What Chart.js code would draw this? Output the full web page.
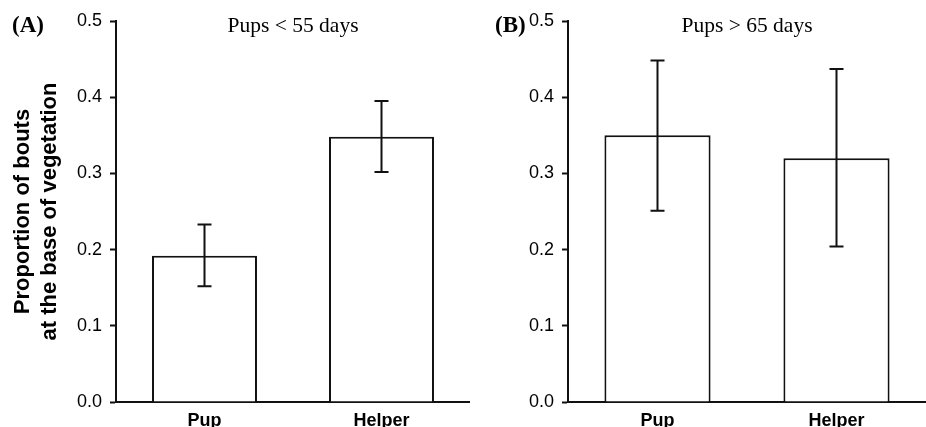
<!DOCTYPE html>
<html>
<head>
<meta charset="utf-8">
<script src="https://cdn.jsdelivr.net/npm/chart.js@4"></script>
<style>
  body { margin: 0; background: #fff; }
  #wrap { position: relative; width: 926px; height: 427px; }
  canvas { position: absolute; top: 0; }
</style>
</head>
<body>
<div id="wrap">
  <canvas id="chartA" width="470" height="427" style="left:0"></canvas>
  <canvas id="chartB" width="456" height="427" style="left:470px"></canvas>
</div>
<script>
// categories and values
const categories = ['Pup', 'Helper'];

const youngMeans = [0.192, 0.348];   // Pups < 55 days
const youngLower = [0.152, 0.302];
const youngUpper = [0.233, 0.395];

const olderMeans = [0.350, 0.320];   // Pups > 65 days
const olderLower = [0.251, 0.204];
const olderUpper = [0.448, 0.437];

const yMin = 0;
const yMax = 0.5;
const yStep = 0.1;

const sans = "'Liberation Sans', Arial, sans-serif";
const serif = "'Liberation Serif', 'Times New Roman', serif";

// draws error bars using the chart's scales
const errorBarPlugin = {
    id: 'errorBars',
    afterDatasetsDraw(chart, args, opts) {
        const ctx = chart.ctx;
        const x = chart.scales.x;
        const y = chart.scales.y;
        ctx.save();
        ctx.strokeStyle = '#111';
        ctx.lineWidth = 2;
        opts.lower.forEach((lo, i) => {
            const px = x.getPixelForValue(i);
            const yLo = y.getPixelForValue(lo);
            const yHi = y.getPixelForValue(opts.upper[i]);
            ctx.beginPath();
            ctx.moveTo(px, yLo);
            ctx.lineTo(px, yHi);
            ctx.moveTo(px - 7, yLo);
            ctx.lineTo(px + 7, yLo);
            ctx.moveTo(px - 7, yHi);
            ctx.lineTo(px + 7, yHi);
            ctx.stroke();
        });
        ctx.restore();
    }
};

// panel letter and panel title
const panelTextPlugin = {
    id: 'panelText',
    afterDraw(chart, args, opts) {
        const ctx = chart.ctx;
        const area = chart.chartArea;
        ctx.save();
        ctx.fillStyle = '#000';
        ctx.textBaseline = 'alphabetic';
        ctx.font = 'bold 23px ' + serif;
        ctx.textAlign = 'left';
        ctx.fillText(opts.label, opts.labelX, 32);
        ctx.font = '21.5px ' + serif;
        ctx.textAlign = 'center';
        ctx.fillText(opts.title, (area.left + area.right) / 2, 32);
        ctx.restore();
    }
};

function makePanel(id, means, lower, upper, opts) {
    const ctx = document.getElementById(id).getContext('2d');
    return new Chart(ctx, {
        type: 'bar',
        data: {
            labels: categories,
            datasets: [{
                data: means,
                backgroundColor: '#fff',
                borderColor: '#111',
                borderWidth: 2,
                barPercentage: 0.593,
                categoryPercentage: 1.0
            }]
        },
        options: {
            responsive: false,
            animation: false,
            devicePixelRatio: 1,
            layout: { padding: { left: 0, right: 0, top: 21, bottom: 0 } },
            plugins: {
                legend: { display: false },
                tooltip: { enabled: false },
                errorBars: { lower: lower, upper: upper },
                panelText: { label: opts.label, labelX: opts.labelX, title: opts.title }
            },
            scales: {
                x: {
                    grid: { display: false },
                    border: { display: true, color: '#111', width: 2 },
                    ticks: {
                        color: '#000',
                        padding: 0,
                        font: { family: sans, size: 18, weight: 'bold' }
                    },
                    afterFit: s => { s.height = 25; }
                },
                y: {
                    min: yMin,
                    max: yMax,
                    grid: {
                        display: true,
                        drawOnChartArea: false,
                        drawTicks: true,
                        tickLength: 6,
                        tickWidth: 2,
                        color: '#111'
                    },
                    border: { display: true, color: '#111', width: 2 },
                    ticks: {
                        stepSize: yStep,
                        color: '#000',
                        padding: 8,
                        font: { family: sans, size: 18 },
                        callback: v => v.toFixed(1)
                    },
                    title: {
                        display: opts.yTitle !== null,
                        text: opts.yTitle || '',
                        color: '#000',
                        padding: { top: 9, bottom: 0 },
                        font: { family: sans, size: 22, weight: 'bold', lineHeight: 1.23 }
                    },
                    afterFit: s => { s.width = opts.yWidth; }
                }
            }
        },
        plugins: [errorBarPlugin, panelTextPlugin]
    });
}

makePanel('chartA', youngMeans, youngLower, youngUpper, {
    label: '(A)', labelX: 12, title: 'Pups < 55 days',
    yTitle: ['Proportion of bouts', 'at the base of vegetation'], yWidth: 116
});
makePanel('chartB', olderMeans, olderLower, olderUpper, {
    label: '(B)', labelX: 25, title: 'Pups > 65 days',
    yTitle: null, yWidth: 98
});
</script>
</body>
</html>
